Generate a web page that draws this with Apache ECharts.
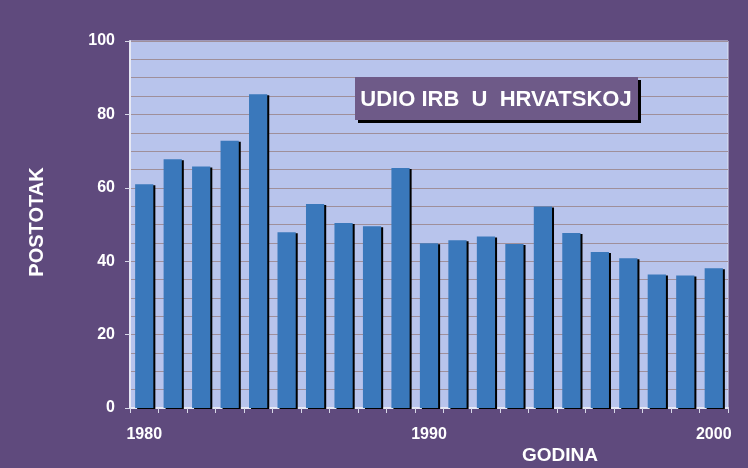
<!DOCTYPE html>
<html>
<head>
<meta charset="utf-8">
<script src="https://cdn.jsdelivr.net/npm/echarts@6/dist/echarts.min.js"></script>
<style>
  html, body { margin: 0; padding: 0; background: #5f4a7d; }
  #chart { width: 748px; height: 468px; }
</style>
</head>
<body>
<div id="chart"></div>
<script>
// godine (kategorije) i udio u postocima
const years = [
  '1980', '1981', '1982', '1983', '1984', '1985', '1986', '1987', '1988', '1989', '1990',
  '1991', '1992', '1993', '1994', '1995', '1996', '1997', '1998', '1999', '2000',
];
const shares = [
  61, 67.8, 65.8, 72.8, 85.5, 47.9, 55.6, 50.4, 49.5, 65.4, 44.9,
  45.7, 46.7, 44.7, 54.9, 47.7, 42.5, 40.8, 36.4, 36.1, 38.1,
];
const titleText = 'UDIO IRB  U  HRVATSKOJ';
const yName = 'POSTOTAK';
const xName = 'GODINA';

const font = 'Arial, "Liberation Sans", sans-serif';
const myChart = echarts.init(document.getElementById('chart'), null, {
  renderer: 'canvas',
});

const option = {
  backgroundColor: '#5f4a7d',
  animation: false,
  grid: {
    left: 130,
    right: 20,
    top: 41,
    bottom: 60,
    show: true,
    backgroundColor: '#b8c4ec',
    borderColor: '#dfe4f6',
    borderWidth: 1,
  },
  graphic: [
    {
      type: 'rect',
      shape: { x: 355, y: 77, width: 283, height: 43 },
      style: {
        fill: '#6e5a88',
        shadowColor: '#000',
        shadowOffsetX: 3,
        shadowOffsetY: 3,
        shadowBlur: 0,
      },
      z: 10,
    },
    {
      type: 'text',
      x: 496,
      y: 100,
      style: {
        text: titleText,
        fill: '#ffffff',
        font: `bold 22px ${font}`,
        align: 'center',
        verticalAlign: 'middle',
      },
      z: 11,
    },
    {
      type: 'text',
      x: 37,
      y: 222,
      rotation: Math.PI / 2,
      style: {
        text: yName,
        fill: '#ffffff',
        font: `bold 20px ${font}`,
        align: 'center',
        verticalAlign: 'middle',
      },
    },
    {
      type: 'text',
      x: 560,
      y: 456,
      style: {
        text: xName,
        fill: '#ffffff',
        font: `bold 19px ${font}`,
        align: 'center',
        verticalAlign: 'middle',
      },
    },
  ],
  xAxis: {
    type: 'category',
    data: years,
    boundaryGap: true,
    axisLine: { lineStyle: { color: '#e6e8f4', width: 2 } },
    axisTick: {
      show: true,
      interval: 0,
      length: 5,
      lineStyle: { color: '#d8d8e8' },
    },
    axisLabel: {
      interval: 9,
      color: '#ffffff',
      fontFamily: font,
      fontWeight: 'bold',
      fontSize: 16,
      margin: 19,
    },
    splitLine: { show: false },
  },
  yAxis: {
    type: 'value',
    min: 0,
    max: 100,
    interval: 20,
    axisLine: { show: true, lineStyle: { color: '#e6e8f4', width: 2 } },
    axisTick: { show: true, length: 5, lineStyle: { color: '#d8d8e8' } },
    axisLabel: {
      color: '#ffffff',
      fontFamily: font,
      fontWeight: 'bold',
      fontSize: 16,
      margin: 15,
    },
    splitLine: { show: true, lineStyle: { color: '#9f8f9a', width: 1 } },
    minorTick: { show: false, splitNumber: 4 },
    minorSplitLine: { show: true, lineStyle: { color: '#9f8f9a', width: 1 } },
  },
  series: [
    {
      type: 'bar',
      data: shares,
      barCategoryGap: '36%',
      itemStyle: {
        color: '#3a78bb',
        shadowColor: '#000',
        shadowOffsetX: 2,
        shadowOffsetY: 1,
        shadowBlur: 0,
      },
    },
  ],
};

myChart.setOption(option);
</script>
</body>
</html>
